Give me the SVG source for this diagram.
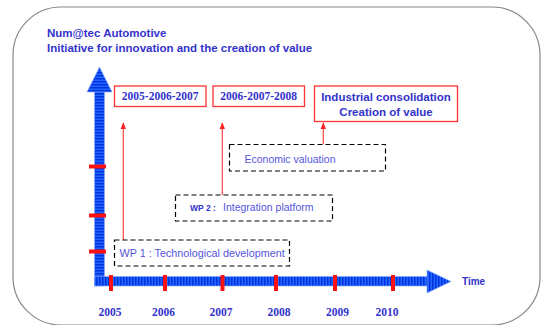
<svg xmlns="http://www.w3.org/2000/svg" width="541" height="325" viewBox="0 0 541 325">
<style>
.t{font-family:"Liberation Sans",Arial,sans-serif;fill:#3333cc;font-weight:bold}
.s{font-family:"Liberation Serif","Times New Roman",serif;fill:#3333cc;font-weight:bold}
.n{font-family:"Liberation Sans",Arial,sans-serif;fill:#5555dd}
.rb{fill:#fff;stroke:#ff3333;stroke-width:1.3}
.db{fill:#fff;stroke:#000;stroke-width:1.2;stroke-dasharray:5,3}
.ra{stroke:#ff4444;stroke-width:1.2;fill:none}
.tick{fill:#ff1111}
</style>
<defs>
<pattern id="hs" patternUnits="userSpaceOnUse" width="10" height="3">
<rect width="10" height="3" fill="#2266ff"/>
<rect width="10" height="1.5" fill="#0033dd"/>
</pattern>
<pattern id="vs" patternUnits="userSpaceOnUse" width="3" height="10">
<rect width="3" height="10" fill="#2266ff"/>
<rect width="1.5" height="10" fill="#0033dd"/>
</pattern>
<marker id="ah" viewBox="0 0 10 10" refX="9" refY="5" markerWidth="6" markerHeight="6" orient="auto">
<path d="M0,1 L10,5 L0,9 z" fill="#ff2222"/>
</marker>
</defs>
<rect x="0" y="0" width="541" height="325" fill="#fff"/>
<rect x="13" y="7" width="527" height="318" rx="48" ry="48" fill="#fff" stroke="#888" stroke-width="1.2"/>
<g id="title">
<text class="t" x="47" y="37" font-size="11.5">Num@tec Automotive</text>
<text class="t" x="47" y="52" font-size="11.5">Initiative for innovation and the creation of value</text>
</g>
<g id="axes">
<rect x="94.5" y="88" width="10" height="198" fill="url(#hs)" stroke="#88aaff" stroke-width="0.6"/>
<polygon points="87,92 99.5,67 112,92" fill="url(#hs)" stroke="#88aaff" stroke-width="0.6"/>
<rect x="94.5" y="276.5" width="334" height="9.5" fill="url(#vs)" stroke="#88aaff" stroke-width="0.6"/>
<polygon points="427,270 451,281.5 427,293" fill="url(#vs)" stroke="#88aaff" stroke-width="0.6"/>
<rect class="tick" x="89" y="164.5" width="17" height="4"/>
<rect class="tick" x="89" y="213.5" width="17" height="4"/>
<rect class="tick" x="89" y="249.5" width="17" height="4"/>
<rect class="tick" x="109" y="275" width="4" height="16"/>
<rect class="tick" x="163" y="275" width="4" height="16"/>
<rect class="tick" x="220.5" y="275" width="4" height="16"/>
<rect class="tick" x="274" y="275" width="4" height="16"/>
<rect class="tick" x="333" y="275" width="4" height="16"/>
<rect class="tick" x="391" y="275" width="4" height="16"/>
<text class="t" x="462" y="284.5" font-size="10">Time</text>
</g>
<g id="years">
<text class="s" x="110" y="316" font-size="11.5" text-anchor="middle">2005</text>
<text class="s" x="163.5" y="316" font-size="11.5" text-anchor="middle">2006</text>
<text class="s" x="221" y="316" font-size="11.5" text-anchor="middle">2007</text>
<text class="s" x="279" y="316" font-size="11.5" text-anchor="middle">2008</text>
<text class="s" x="337.5" y="316" font-size="11.5" text-anchor="middle">2009</text>
<text class="s" x="387" y="316" font-size="11.5" text-anchor="middle">2010</text>
</g>
<g id="connectors">
<line class="ra" x1="123.3" y1="240" x2="123.3" y2="123" marker-end="url(#ah)"/>
<line class="ra" x1="222.3" y1="195" x2="222.3" y2="123" marker-end="url(#ah)"/>
<line class="ra" x1="323.3" y1="144.5" x2="323.3" y2="123" marker-end="url(#ah)"/>
</g>
<g id="box1">
<rect class="rb" x="114.5" y="86" width="91.5" height="20.5"/>
<text class="s" x="160.2" y="100" font-size="11.5" text-anchor="middle">2005-2006-2007</text>
</g>
<g id="box2">
<rect class="rb" x="213" y="86" width="91.5" height="20.5"/>
<text class="s" x="258.7" y="100" font-size="11.5" text-anchor="middle">2006-2007-2008</text>
</g>
<g id="box3">
<rect class="rb" x="314.5" y="86" width="143" height="35.5"/>
<text class="t" x="386" y="100.5" font-size="11.5" text-anchor="middle">Industrial consolidation</text>
<text class="t" x="386" y="115.5" font-size="11.5" text-anchor="middle">Creation of value</text>
</g>
<g id="economic">
<rect class="db" x="229.5" y="144.5" width="156" height="26.5"/>
<text class="n" x="244.5" y="163" font-size="10.5">Economic valuation</text>
</g>
<g id="wp2">
<rect class="db" x="175.5" y="195" width="157" height="26"/>
<text class="t" x="190" y="210.5" font-size="8.5">WP 2 :</text>
<text class="n" x="223" y="210.5" font-size="10.5">Integration platform</text>
</g>
<g id="wp1">
<rect class="db" x="114.5" y="240" width="175" height="26"/>
<text class="n" x="119.5" y="257" font-size="10.8">WP 1 : Technological development</text>
</g>
</svg>
